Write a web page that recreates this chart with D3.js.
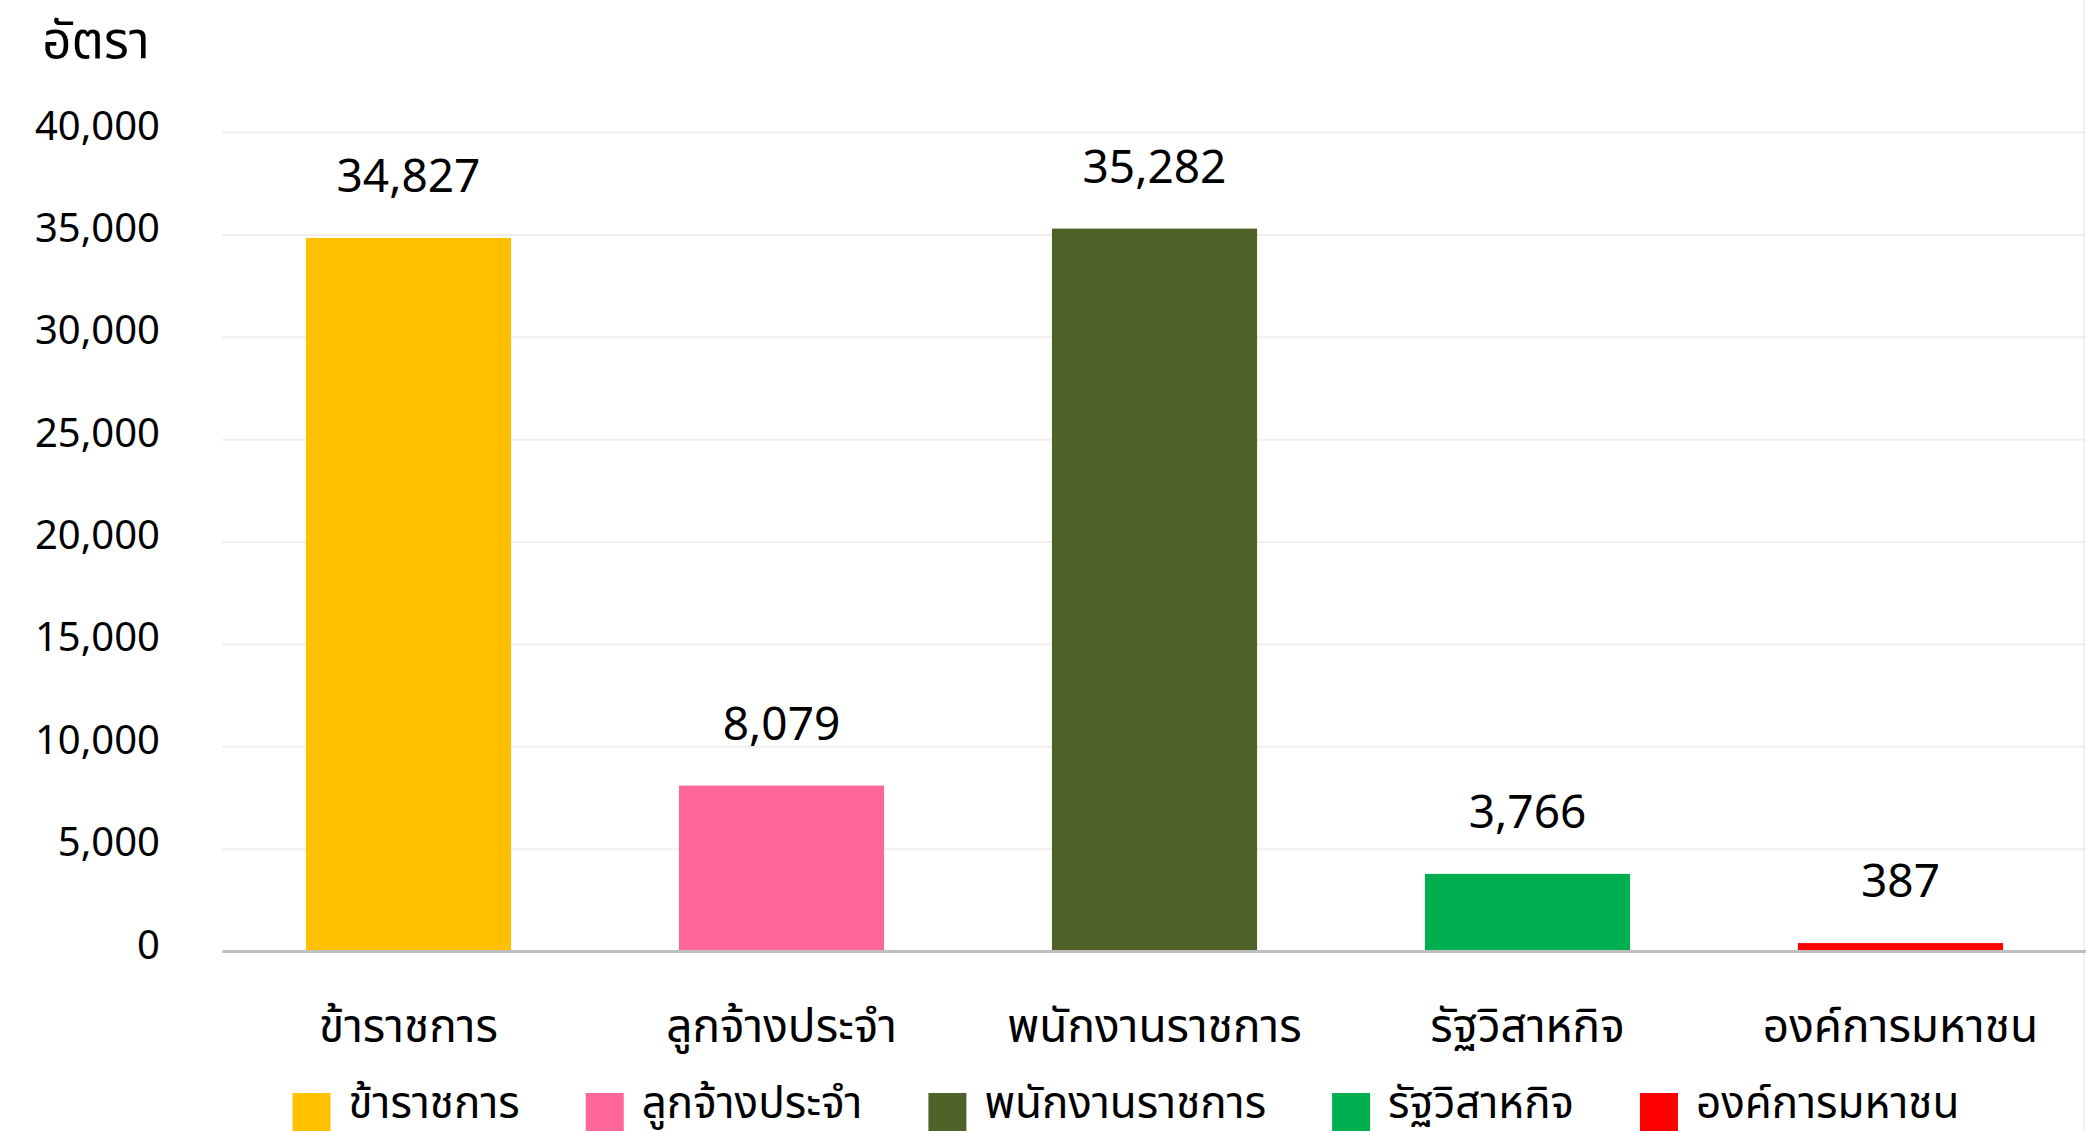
<!DOCTYPE html>
<html lang="th">
<head>
<meta charset="UTF-8">
<title>อัตรา</title>
<script src="https://d3js.org/d3.v7.min.js"></script>
<style>
  html, body { margin: 0; padding: 0; background: #fff; }
  svg text { font-family: "Noto Sans Thai", "Noto Sans", sans-serif; fill: #000; }
</style>
</head>
<body>
<svg id="chart" width="2086" height="1131"></svg>
<script>
const categories = ["ข้าราชการ", "ลูกจ้างประจำ", "พนักงานราชการ", "รัฐวิสาหกิจ", "องค์การมหาชน"];
const values = [34827, 8079, 35282, 3766, 387];
const colors = ["#FFC000", "#FF6699", "#4F6228", "#00B050", "#FF0000"];
const yTicks = [0, 5000, 10000, 15000, 20000, 25000, 30000, 35000, 40000];
const yTitle = "อัตรา";

const svg = d3.select("#chart");
const margin = { top: 132, left: 222, bottom: 951 };
const plotRight = 2087;

const x = d3.scaleBand()
    .domain(categories)
    .range([margin.left, plotRight])
    .paddingInner(0.45)
    .paddingOuter(0.225);

const y = d3.scaleLinear()
    .domain([0, 40000])
    .range([margin.bottom, margin.top]);

const fmt = d3.format(",");

// gridlines + y labels
const yAxis = svg.append("g")
    .attr("transform", `translate(${margin.left},0)`)
    .call(d3.axisLeft(y).tickValues(yTicks).tickFormat(fmt)
        .tickSize(-(plotRight - margin.left)).tickPadding(62));
yAxis.select(".domain").remove();
yAxis.selectAll(".tick line").attr("stroke", "#efefef").attr("stroke-width", 2);
yAxis.selectAll(".tick text")
    .attr("font-size", 40)
    .attr("dy", 7)
    .style("font-family", "'Noto Sans', sans-serif");

// right border of chart area
svg.append("line")
    .attr("x1", 2084).attr("x2", 2084)
    .attr("y1", 0).attr("y2", 1131)
    .attr("stroke", "#e6e6e6").attr("stroke-width", 1);

// bars
svg.append("g").selectAll("rect")
    .data(values)
    .join("rect")
    .attr("x", (d, i) => x(categories[i]))
    .attr("y", d => y(d))
    .attr("width", x.bandwidth())
    .attr("height", d => y(0) - y(d))
    .attr("fill", (d, i) => colors[i]);

// value labels
svg.append("g").selectAll("text")
    .data(values)
    .join("text")
    .attr("x", (d, i) => x(categories[i]) + x.bandwidth() / 2)
    .attr("y", d => y(d) - 46)
    .attr("text-anchor", "middle")
    .attr("font-size", 46)
    .style("font-family", "'Noto Sans', sans-serif")
    .text(d => fmt(d));

// x axis
const xAxis = svg.append("g")
    .attr("transform", `translate(0,${margin.bottom})`)
    .call(d3.axisBottom(x).tickSize(0).tickSizeOuter(0));
xAxis.select(".domain").attr("stroke", "#bfbfbf").attr("stroke-width", 3);
xAxis.selectAll(".tick text")
    .attr("y", 91)
    .attr("dy", 0)
    .attr("font-size", 46);

// y title
svg.append("text")
    .attr("x", 96).attr("y", 58)
    .attr("text-anchor", "middle")
    .attr("font-size", 51)
    .text(yTitle);

// legend
const legend = svg.append("g");
const items = legend.selectAll("g")
    .data(categories)
    .join("g");
items.append("rect")
    .attr("width", 38).attr("height", 38)
    .attr("y", 1093)
    .attr("fill", (d, i) => colors[i]);
items.append("text")
    .attr("x", 56).attr("y", 1118)
    .attr("font-size", 44)
    .text(d => d);
const gap = 66;
let cursor = 0;
const offsets = [];
items.each(function() {
    offsets.push(cursor);
    const w = d3.select(this).select("text").node().getComputedTextLength();
    cursor += 56 + w + gap;
});
const total = cursor - gap;
const start = 1126 - total / 2;
items.attr("transform", (d, i) => `translate(${start + offsets[i]},0)`);
</script>
</body>
</html>
